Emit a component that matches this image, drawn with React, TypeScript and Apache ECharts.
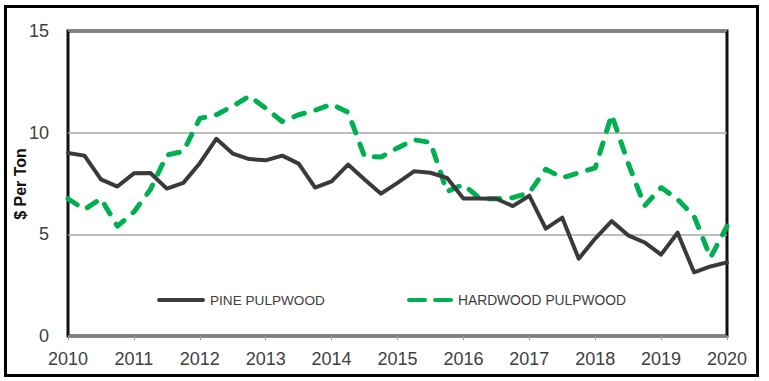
import React, { useEffect, useRef } from "react";
import * as echarts from "echarts";

const years = ["2010", "2011", "2012", "2013", "2014", "2015", "2016", "2017", "2018", "2019", "2020"];
const quarters = ["Q1", "Q2", "Q3", "Q4"];
const categories: string[] = [];
years.forEach((y) => {
  quarters.forEach((q) => {
    if (y !== "2020" || q === "Q1") categories.push(`${y} ${q}`);
  });
});

const pinePulpwood = [
  9.0, 8.87, 7.7, 7.35,
  8.0, 8.02, 7.25, 7.53,
  8.5, 9.7, 8.97, 8.7,
  8.64, 8.87, 8.48, 7.3,
  7.6, 8.43, 7.7, 7.0,
  7.53, 8.1, 8.03, 7.78,
  6.76, 6.76, 6.75, 6.39,
  6.9, 5.28, 5.82, 3.8,
  4.79, 5.65, 4.95, 4.6,
  4.0, 5.08, 3.13, 3.42,
  3.62,
];

const hardwoodPulpwood = [
  6.75, 6.22, 6.75, 5.4,
  6.1, 7.2, 8.9, 9.08,
  10.7, 10.88, 11.3, 11.8,
  11.2, 10.55, 10.88, 11.1,
  11.4, 11.0, 8.83, 8.8,
  9.25, 9.65, 9.52, 7.1,
  7.45, 6.76, 6.75, 6.8,
  7.05, 8.2, 7.78, 8.03,
  8.27, 10.88, 8.5, 6.4,
  7.3, 6.72, 5.9, 3.86,
  5.4,
];

const yTicks = [0, 5, 10, 15];
const seriesNames = ["PINE PULPWOOD", "HARDWOOD PULPWOOD"];
const yAxisTitle = "$ Per Ton";

const FONT = "'Liberation Sans', Arial, sans-serif";
const TEXT = "#404040";
const PINE = "#3a3a3a";
const GREEN = "#00b050";

const PINE_ICON = "path://M2,0 H44 A2,2 0 0 1 44,4 H2 A2,2 0 0 1 2,0 Z";
const DASH_ICON =
  "path://M2,0 H18 A2,2 0 0 1 18,4 H2 A2,2 0 0 1 2,0 Z M28,0 H44 A2,2 0 0 1 44,4 H28 A2,2 0 0 1 28,0 Z";

export default function App() {
  const ref = useRef<HTMLDivElement>(null);

  useEffect(() => {
    if (!ref.current) return;
    const chart = echarts.init(ref.current, undefined, { renderer: "svg" });
    chart.setOption({
      animation: false,
      backgroundColor: "#ffffff",
      textStyle: { fontFamily: FONT },
      graphic: [
        {
          type: "rect",
          shape: { x: 5.5, y: 6.5, width: 752, height: 369 },
          style: { fill: "none", stroke: "#000", lineWidth: 3 },
          silent: true,
        },
        {
          type: "text",
          x: 20,
          y: 184,
          rotation: Math.PI / 2,
          silent: true,
          style: {
            text: yAxisTitle,
            fontFamily: FONT,
            fontSize: 16,
            fontWeight: "bold",
            fill: "#111",
            align: "center",
            verticalAlign: "middle",
          },
        },
      ],
      grid: {
        left: 68,
        right: 42,
        top: 31,
        bottom: 45,
        show: true,
        borderColor: "#111",
        borderWidth: 3,
        backgroundColor: "transparent",
      },
      legend: [
        {
          data: [{ name: seriesNames[0], icon: PINE_ICON, itemStyle: { color: PINE, borderWidth: 0 } }],
          left: 152,
          top: 288,
          itemWidth: 48,
          itemHeight: 5,
          textStyle: { fontFamily: FONT, fontSize: 13.6, color: TEXT },
        },
        {
          data: [{ name: seriesNames[1], icon: DASH_ICON, itemStyle: { color: GREEN, borderWidth: 0 } }],
          left: 402,
          top: 288,
          itemWidth: 46,
          itemHeight: 5,
          textStyle: { fontFamily: FONT, fontSize: 13.8, color: TEXT },
        },
      ],
      xAxis: {
        type: "category",
        data: categories,
        boundaryGap: false,
        axisLine: { show: false },
        axisTick: {
          show: true,
          interval: 3,
          length: 4,
          lineStyle: { color: "#999", width: 1 },
        },
        axisLabel: {
          interval: 3,
          margin: 14,
          fontSize: 18,
          color: TEXT,
          fontFamily: FONT,
          formatter: (v: string) => v.slice(0, 4),
        },
        splitLine: { show: false },
      },
      yAxis: {
        type: "value",
        min: yTicks[0],
        max: yTicks[yTicks.length - 1],
        interval: 5,
        axisLine: { show: false },
        axisTick: { show: false },
        axisLabel: { margin: 19, fontSize: 18, color: TEXT, fontFamily: FONT },
        splitLine: { show: true, lineStyle: { color: "#a6a6a6", width: 1.5 } },
      },
      series: [
        {
          name: seriesNames[0],
          type: "line",
          data: pinePulpwood,
          symbol: "none",
          lineStyle: { color: PINE, width: 4, join: "round", cap: "round" },
          itemStyle: { color: PINE },
          z: 3,
        },
        {
          name: seriesNames[1],
          type: "line",
          data: hardwoodPulpwood,
          symbol: "none",
          lineStyle: {
            color: GREEN,
            width: 5,
            type: [11, 12],
            cap: "round",
            join: "round",
          },
          itemStyle: { color: GREEN },
          z: 2,
        },
      ],
    });
    return () => chart.dispose();
  }, []);

  return (
    <div
      ref={ref}
      style={{ position: "fixed", left: 0, top: 0, width: 769, height: 381 }}
    />
  );
}
